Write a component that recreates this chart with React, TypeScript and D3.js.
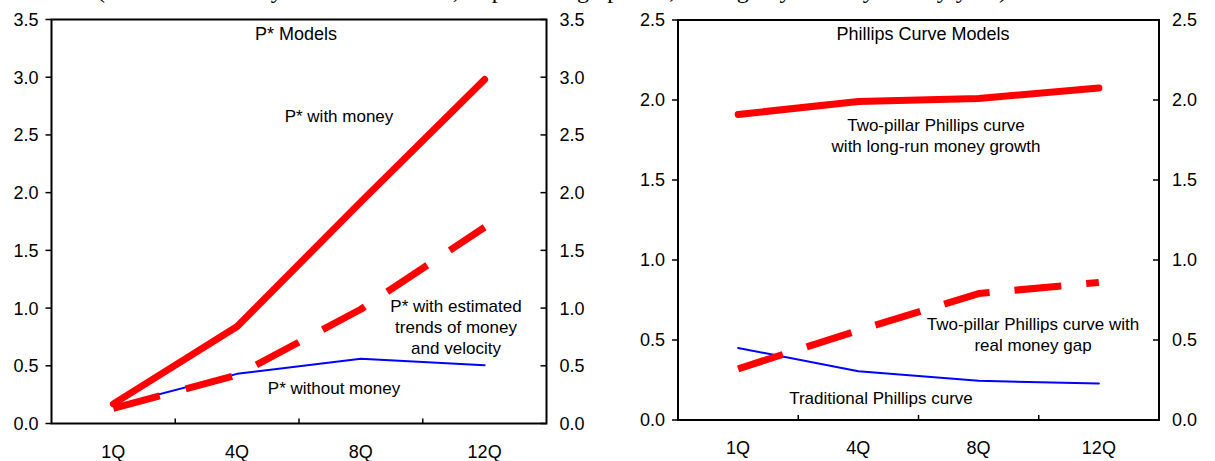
import React from 'react';
import * as d3 from 'd3';

// ---- data ----
const categories = ['1Q', '4Q', '8Q', '12Q'];

const pStarTicks = [0, 0.5, 1, 1.5, 2, 2.5, 3, 3.5];
const pStarWithMoney = [0.17, 0.84, 1.92, 2.98];
const pStarEstimatedTrends = [0.13, 0.42, 0.99, 1.7];
const pStarWithoutMoney = [0.15, 0.43, 0.56, 0.505];

const phillipsTicks = [0, 0.5, 1, 1.5, 2, 2.5];
const pcLongRunMoneyGrowth = [1.91, 1.99, 2.01, 2.075];
const pcRealMoneyGap = [0.32, 0.56, 0.79, 0.86];
const pcTraditional = [0.45, 0.305, 0.245, 0.228];

const topNote =
  '(Absolute error by forecast horizon, in percentage points; average by country and by year)';

const FONT = '"Liberation Sans", Arial, Helvetica, sans-serif';

type Series = { values: number[]; color: string; width: number; dash?: string };
type Note = { lines: string[]; x: number; y: number };

type PanelProps = {
  left: number;
  right: number;
  top: number;
  bottom: number;
  ticks: number[];
  title: string;
  titleX: number;
  series: Series[];
  notes: Note[];
};

function Panel({ left, right, top, bottom, ticks, title, titleX, series, notes }: PanelProps) {
  const x = d3.scaleBand<string>().domain(categories).range([left, right]).paddingInner(0).paddingOuter(0);
  const y = d3.scaleLinear().domain([0, d3.max(ticks) as number]).range([bottom, top]);
  const fmt = d3.format('.1f');
  const cx = (c: string) => (x(c) as number) + x.bandwidth() / 2;
  const line = d3
    .line<number>()
    .x((_, i) => cx(categories[i]))
    .y((v) => y(v));
  const boundaries = categories.slice(1).map((c) => x(c) as number);

  return (
    <g fontFamily={FONT}>
      {/* frame */}
      <rect x={left} y={top} width={right - left} height={bottom - top} fill="none" stroke="#000" strokeWidth={2} />
      {/* y ticks & labels */}
      {ticks.map((t) => (
        <g key={t}>
          <line x1={left - 6} x2={left} y1={y(t)} y2={y(t)} stroke="#000" strokeWidth={1.5} />
          <line x1={right - 6} x2={right} y1={y(t)} y2={y(t)} stroke="#000" strokeWidth={1.5} />
          <text x={left - 13} y={y(t)} dy="0.36em" textAnchor="end" fontSize={18} fill="#000">
            {fmt(t)}
          </text>
          <text x={right + 13} y={y(t)} dy="0.36em" textAnchor="start" fontSize={18} fill="#000">
            {fmt(t)}
          </text>
        </g>
      ))}
      {/* x ticks & labels */}
      {boundaries.map((b, i) => (
        <line key={i} x1={b} x2={b} y1={bottom} y2={bottom - 5} stroke="#000" strokeWidth={1.5} />
      ))}
      {categories.map((c) => (
        <text key={c} x={cx(c)} y={bottom + 34} textAnchor="middle" fontSize={18} fill="#000">
          {c}
        </text>
      ))}
      {/* series */}
      {series.map((s, i) => (
        <path
          key={i}
          d={line(s.values) as string}
          fill="none"
          stroke={s.color}
          strokeWidth={s.width}
          strokeDasharray={s.dash}
          strokeLinecap={s.dash ? 'butt' : 'round'}
          strokeLinejoin="round"
        />
      ))}
      {/* title */}
      <text x={titleX} y={top + 20} textAnchor="middle" fontSize={18} fill="#000">
        {title}
      </text>
      {/* notes */}
      {notes.map((n, i) => (
        <text key={i} x={n.x} y={n.y} textAnchor="middle" fontSize={17} fill="#000">
          {n.lines.map((l, j) => (
            <tspan key={j} x={n.x} dy={j === 0 ? 0 : 21}>
              {l}
            </tspan>
          ))}
        </text>
      ))}
    </g>
  );
}

export default function App() {
  return (
    <svg
      width={1215}
      height={461}
      style={{ position: 'absolute', left: 0, top: 0, background: '#fff' }}
    >
      <rect x={0} y={0} width={1215} height={461} fill="#fff" />
      <text
        x={97}
        y={-2}
        fontFamily='"Liberation Serif", "Times New Roman", serif'
        fontSize={24}
        textLength={910}
        lengthAdjust="spacing"
        fill="#000"
      >
        {topNote}
      </text>
      <Panel
        left={51.5}
        right={546.5}
        top={19.5}
        bottom={423.5}
        ticks={pStarTicks}
        title="P* Models"
        titleX={296}
        series={[
          { values: pStarWithoutMoney, color: '#0000ff', width: 2 },
          { values: pStarEstimatedTrends, color: '#ff0000', width: 7, dash: '48 27' },
          { values: pStarWithMoney, color: '#ff0000', width: 7 },
        ]}
        notes={[
          { lines: ['P* with money'], x: 339, y: 122 },
          { lines: ['P* with estimated', 'trends of money', 'and velocity'], x: 456, y: 312 },
          { lines: ['P* without money'], x: 334, y: 394 },
        ]}
      />
      <Panel
        left={678}
        right={1159}
        top={20}
        bottom={420}
        ticks={phillipsTicks}
        title="Phillips Curve Models"
        titleX={923}
        series={[
          { values: pcTraditional, color: '#0000ff', width: 2 },
          { values: pcRealMoneyGap, color: '#ff0000', width: 7, dash: '47 25' },
          { values: pcLongRunMoneyGrowth, color: '#ff0000', width: 7 },
        ]}
        notes={[
          { lines: ['Two-pillar Phillips curve', 'with long-run money growth'], x: 936, y: 131 },
          { lines: ['Two-pillar Phillips curve with', 'real money gap'], x: 1033, y: 330 },
          { lines: ['Traditional Phillips curve'], x: 881, y: 404 },
        ]}
      />
    </svg>
  );
}
